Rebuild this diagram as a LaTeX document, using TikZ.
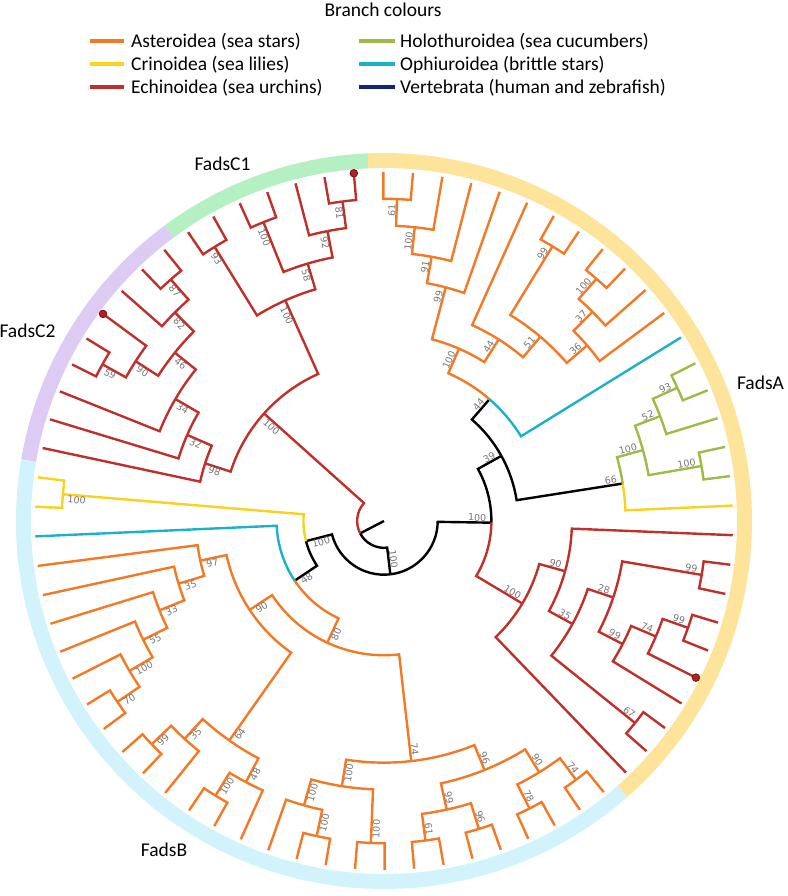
\documentclass[tikz,border=0pt]{standalone}
\usepackage{fontspec}
\setmainfont{Carlito}
\newfontfamily\bootfont{DejaVu Sans}
\definecolor{astcol}{RGB}{244,121,36}
\definecolor{cricol}{RGB}{248,210,28}
\definecolor{echcol}{RGB}{192,48,42}
\definecolor{holcol}{RGB}{157,187,70}
\definecolor{ophcol}{RGB}{25,178,201}
\definecolor{vercol}{RGB}{20,36,118}
\definecolor{ringC1}{RGB}{180,240,194}
\definecolor{ringC2}{RGB}{222,203,244}
\definecolor{ringB}{RGB}{210,243,251}
\definecolor{ringA}{RGB}{253,228,154}
\definecolor{dotred}{RGB}{178,34,34}
\definecolor{dotedge}{RGB}{120,16,16}
\definecolor{bootgray}{RGB}{118,118,118}
\def\rs{26.85pt}
% branch: colour, parent angle, parent level, child angle, child level
\newcommand\br[5][black]{\draw[branch,#1] ({#2}:{#3*\rs}) arc[start angle={#2}, end angle={#4}, radius={#3*\rs}] -- ({#4}:{#5*\rs});}
% support value: name, angle, level, value
\newcommand\bs[4]{%
  \pgfmathtruncatemacro\bsright{cos(#2)>=0 ? 1 : 0}%
  \ifnum\bsright=1
    \node[boot, rotate=#2, anchor=south east] (#1) at ({#2}:{#3*\rs-4pt}) {#4};
  \else
    \node[boot, rotate=#2+180, anchor=north west] (#1) at ({#2}:{#3*\rs-4pt}) {#4};
  \fi}

\begin{document}
\begin{tikzpicture}[
  x=1pt, y=1pt,
  branch/.style={line width=2.4pt},
  boot/.style={
    font=\bootfont\fontsize{9.5}{10}\selectfont,
    text=bootgray,
    inner sep=1pt
  },
  ringband/.style={line width=15pt},
  clade/.style={font=\fontsize{19.5}{23}\selectfont, inner sep=0pt},
  legtext/.style={font=\fontsize{19.5}{23}\selectfont, anchor=base west, inner sep=0pt},
  swatch/.style={line width=4pt},
  tipdot/.style={fill=dotred, draw=dotedge, line width=0.8pt},
]
\useasboundingbox (-384,-375) rectangle (403,521);

% legend
\node[clade, anchor=base] (legtitle) at (-1,504.3) {Branch colours};
\draw[swatch, astcol] (-294,480) -- (-260,480);
\node[legtext] (legast) at (-253,473.5) {Asteroidea (sea stars)};
\draw[swatch, cricol] (-294,457.2) -- (-260,457.2);
\node[legtext] (legcri) at (-253,450.7) {Crinoidea (sea lilies)};
\draw[swatch, echcol] (-294,434.4) -- (-260,434.4);
\node[legtext] (legech) at (-253,427.9) {Echinoidea (sea urchins)};
\draw[swatch, holcol] (-25,480) -- (11,480);
\node[legtext] (leghol) at (16,473.5) {Holothuroidea (sea cucumbers)};
\draw[swatch, ophcol] (-25,457.2) -- (11,457.2);
\node[legtext] (legoph) at (16,450.7) {Ophiuroidea (brittle stars)};
\draw[swatch, vercol] (-25,434.4) -- (11,434.4);
\node[legtext] (legver) at (16,427.9) {Vertebrata (human and zebrafish)};

% outer ring
\draw[ringband, ringC1] (92.53:360.5pt) arc[start angle=92.53, end angle=126.58, radius=360.5pt];
\draw[ringband, ringC2] (126.58:360.5pt) arc[start angle=126.58, end angle=170.36, radius=360.5pt];
\draw[ringband, ringB] (170.36:360.5pt) arc[start angle=170.36, end angle=311.45, radius=360.5pt];
\draw[ringband, ringA] (-48.55:360.5pt) arc[start angle=-48.55, end angle=92.53, radius=360.5pt];
\node[clade] (labC1) at (-161.5,357) {FadsC1};
\node[clade] (labC2) at (-356.5,190.5) {FadsC2};
\node[clade] (labA) at (376.5,138.5) {FadsA};
\node[clade] (labB) at (-220,-329) {FadsB};

% backbone
\draw[branch] (0,0) -- (-152.54:\rs);
\br{-152.54}{1}{-83.21}{2}
\br{-83.21}{2}{-165.51}{3}
\br{-83.21}{2}{-0.90}{4}
\br{-165.51}{3}{-146.25}{4}
\br{-0.90}{4}{29.01}{5}
\br{29.01}{5}{49.10}{6}
\br{29.01}{5}{8.92}{9}
\br[echcol]{-152.54}{1}{-221.87}{6}
\br[echcol]{-0.90}{4}{-30.81}{6}
\br[cricol]{-165.51}{3}{-184.77}{12}
\br[cricol]{-184.77}{12}{-182.34}{13}
\br[cricol]{-184.77}{12}{-187.20}{13}
\br[cricol]{8.92}{9}{2.53}{13}
\br[ophcol]{-146.25}{4}{-177.47}{13}
\br[ophcol]{49.10}{6}{31.72}{13}
\br[astcol]{-146.25}{4}{-115.02}{5}
\br[astcol]{49.10}{6}{66.47}{7}

% FadsA, sea stars
\br[astcol]{66.47}{7}{75.21}{9}
\br[astcol]{66.47}{7}{57.73}{8}
\br[astcol]{75.21}{9}{70.64}{13}
\br[astcol]{75.21}{9}{79.77}{10}
\br[astcol]{79.77}{10}{75.51}{13}
\br[astcol]{79.77}{10}{84.02}{11}
\br[astcol]{84.02}{11}{80.37}{13}
\br[astcol]{84.02}{11}{87.67}{12}
\br[astcol]{87.67}{12}{90.10}{13}
\br[astcol]{87.67}{12}{85.24}{13}
\br[astcol]{57.73}{8}{65.78}{13}
\br[astcol]{57.73}{8}{49.67}{9}
\br[astcol]{49.67}{9}{58.48}{12}
\br[astcol]{58.48}{12}{60.91}{13}
\br[astcol]{58.48}{12}{56.05}{13}
\br[astcol]{49.67}{9}{40.85}{10}
\br[astcol]{40.85}{10}{45.10}{11}
\br[astcol]{40.85}{10}{36.59}{13}
\br[astcol]{45.10}{11}{48.75}{12}
\br[astcol]{45.10}{11}{41.45}{13}
\br[astcol]{48.75}{12}{51.18}{13}
\br[astcol]{48.75}{12}{46.32}{13}

% FadsA, sea cucumbers
\br[holcol]{8.92}{9}{15.31}{10}
\br[holcol]{15.31}{10}{20.78}{11}
\br[holcol]{15.31}{10}{9.83}{12}
\br[holcol]{20.78}{11}{24.43}{12}
\br[holcol]{20.78}{11}{17.13}{13}
\br[holcol]{24.43}{12}{26.86}{13}
\br[holcol]{24.43}{12}{21.99}{13}
\br[holcol]{9.83}{12}{12.26}{13}
\br[holcol]{9.83}{12}{7.40}{13}

% FadsA, sea urchins
\br[echcol]{-30.81}{6}{-15.49}{7}
\br[echcol]{-30.81}{6}{-46.12}{13}
\br[echcol]{-15.49}{7}{-2.33}{13}
\br[echcol]{-15.49}{7}{-28.64}{8}
\br[echcol]{-28.64}{8}{-18.45}{9}
\br[echcol]{-28.64}{8}{-38.82}{12}
\br[echcol]{-38.82}{12}{-36.39}{13}
\br[echcol]{-38.82}{12}{-41.25}{13}
\br[echcol]{-18.45}{9}{-9.63}{12}
\br[echcol]{-18.45}{9}{-27.27}{10}
\br[echcol]{-9.63}{12}{-7.20}{13}
\br[echcol]{-9.63}{12}{-12.06}{13}
\br[echcol]{-27.27}{10}{-23.01}{11}
\br[echcol]{-27.27}{10}{-31.52}{13}
\br[echcol]{-23.01}{11}{-19.36}{12}
\br[echcol]{-23.01}{11}{-26.66}{13}
\br[echcol]{-19.36}{12}{-16.93}{13}
\br[echcol]{-19.36}{12}{-21.79}{13}

% FadsB
\br[astcol]{-115.02}{5}{-146.50}{6}
\br[astcol]{-115.02}{5}{-83.53}{9}
\br[astcol]{-146.50}{6}{-167.82}{7}
\br[astcol]{-146.50}{6}{-125.18}{10}
\br[astcol]{-167.82}{7}{-172.61}{13}
\br[astcol]{-167.82}{7}{-163.03}{8}
\br[astcol]{-163.03}{8}{-167.74}{13}
\br[astcol]{-163.03}{8}{-158.32}{9}
\br[astcol]{-158.32}{9}{-162.88}{13}
\br[astcol]{-158.32}{9}{-153.76}{10}
\br[astcol]{-153.76}{10}{-158.01}{13}
\br[astcol]{-153.76}{10}{-149.50}{11}
\br[astcol]{-149.50}{11}{-153.15}{13}
\br[astcol]{-149.50}{11}{-145.85}{12}
\br[astcol]{-145.85}{12}{-148.28}{13}
\br[astcol]{-145.85}{12}{-143.42}{13}
\br[astcol]{-125.18}{10}{-132.47}{11}
\br[astcol]{-125.18}{10}{-117.88}{11}
\br[astcol]{-132.47}{11}{-136.12}{12}
\br[astcol]{-132.47}{11}{-128.82}{13}
\br[astcol]{-136.12}{12}{-133.69}{13}
\br[astcol]{-136.12}{12}{-138.55}{13}
\br[astcol]{-117.88}{11}{-121.53}{12}
\br[astcol]{-117.88}{11}{-114.23}{13}
\br[astcol]{-121.53}{12}{-119.09}{13}
\br[astcol]{-121.53}{12}{-123.96}{13}
\br[astcol]{-83.53}{9}{-99.03}{10}
\br[astcol]{-83.53}{9}{-68.02}{10}
\br[astcol]{-99.03}{10}{-105.72}{11}
\br[astcol]{-99.03}{10}{-92.34}{12}
\br[astcol]{-105.72}{11}{-109.36}{13}
\br[astcol]{-105.72}{11}{-102.07}{12}
\br[astcol]{-102.07}{12}{-104.50}{13}
\br[astcol]{-102.07}{12}{-99.63}{13}
\br[astcol]{-92.34}{12}{-94.77}{13}
\br[astcol]{-92.34}{12}{-89.90}{13}
\br[astcol]{-68.02}{10}{-77.75}{11}
\br[astcol]{-68.02}{10}{-58.29}{11}
\br[astcol]{-77.75}{11}{-82.61}{12}
\br[astcol]{-77.75}{11}{-72.88}{12}
\br[astcol]{-82.61}{12}{-85.04}{13}
\br[astcol]{-82.61}{12}{-80.17}{13}
\br[astcol]{-72.88}{12}{-75.31}{13}
\br[astcol]{-72.88}{12}{-70.44}{13}
\br[astcol]{-58.29}{11}{-63.15}{12}
\br[astcol]{-58.29}{11}{-53.42}{12}
\br[astcol]{-63.15}{12}{-65.58}{13}
\br[astcol]{-63.15}{12}{-60.71}{13}
\br[astcol]{-53.42}{12}{-55.85}{13}
\br[astcol]{-53.42}{12}{-50.98}{13}

% FadsC1 and FadsC2
\br[echcol]{-221.87}{6}{-197.85}{7}
\br[echcol]{-221.87}{6}{-245.89}{9}
\br[echcol]{-197.85}{7}{-192.07}{13}
\br[echcol]{-197.85}{7}{-203.63}{8}
\br[echcol]{-203.63}{8}{-196.93}{13}
\br[echcol]{-203.63}{8}{-210.32}{9}
\br[echcol]{-210.32}{9}{-201.80}{13}
\br[echcol]{-210.32}{9}{-218.83}{10}
\br[echcol]{-218.83}{10}{-212.75}{11}
\br[echcol]{-218.83}{10}{-224.91}{11}
\br[echcol]{-212.75}{11}{-209.10}{12}
\br[echcol]{-212.75}{11}{-216.39}{13}
\br[echcol]{-209.10}{12}{-206.66}{13}
\br[echcol]{-209.10}{12}{-211.53}{13}
\br[echcol]{-224.91}{11}{-221.26}{13}
\br[echcol]{-224.91}{11}{-228.56}{12}
\br[echcol]{-228.56}{12}{-226.12}{13}
\br[echcol]{-228.56}{12}{-230.99}{13}
\br[echcol]{-245.89}{9}{-238.29}{12}
\br[echcol]{-245.89}{9}{-253.49}{10}
\br[echcol]{-238.29}{12}{-235.85}{13}
\br[echcol]{-238.29}{12}{-240.72}{13}
\br[echcol]{-253.49}{10}{-248.02}{12}
\br[echcol]{-253.49}{10}{-258.96}{11}
\br[echcol]{-248.02}{12}{-245.58}{13}
\br[echcol]{-248.02}{12}{-250.45}{13}
\br[echcol]{-258.96}{11}{-255.31}{13}
\br[echcol]{-258.96}{11}{-262.61}{12}
\br[echcol]{-262.61}{12}{-260.18}{13}
\br[echcol]{-262.61}{12}{-265.04}{13}

% marked tips
\draw[tipdot] (-216.39:{13*\rs}) circle (3.8pt);
\draw[tipdot] (-265.04:{13*\rs}) circle (3.8pt);
\draw[tipdot] (-26.66:{13*\rs}) circle (3.8pt);

% support values
\bs{bN1}{-83.21}{2}{100}
\bs{bN3}{-165.51}{3}{100}
\bs{bN2}{-0.90}{4}{100}
\bs{bN4}{-146.25}{4}{48}
\bs{bN5}{29.01}{5}{39}
\bs{bN6}{49.10}{6}{44}
\bs{bH66}{8.92}{9}{66}
\bs{bEA}{-30.81}{6}{100}
\bs{bEC}{-221.87}{6}{100}
\bs{bCri}{-184.77}{12}{100}
\bs{bA100t}{66.47}{7}{100}
\bs{bA99}{75.21}{9}{99}
\bs{bA91}{79.77}{10}{91}
\bs{bA100}{84.02}{11}{100}
\bs{bA61}{87.67}{12}{61}
\bs{bA44}{57.73}{8}{44}
\bs{bA51}{49.67}{9}{51}
\bs{bA99b}{58.48}{12}{99}
\bs{bA36}{40.85}{10}{36}
\bs{bA37}{45.10}{11}{37}
\bs{bA100c}{48.75}{12}{100}
\bs{bH100}{15.31}{10}{100}
\bs{bH52}{20.78}{11}{52}
\bs{bH93}{24.43}{12}{93}
\bs{bH100b}{9.83}{12}{100}
\bs{bR90}{-15.49}{7}{90}
\bs{bR35}{-28.64}{8}{35}
\bs{bR28}{-18.45}{9}{28}
\bs{bR99c}{-9.63}{12}{99}
\bs{bR99d}{-27.27}{10}{99}
\bs{bR74}{-23.01}{11}{74}
\bs{bR99e}{-19.36}{12}{99}
\bs{bR67}{-38.82}{12}{67}
\bs{bB80}{-115.02}{5}{80}
\bs{bB90}{-146.50}{6}{90}
\bs{bB74}{-83.53}{9}{74}
\bs{bB97}{-167.82}{7}{97}
\bs{bB35a}{-163.03}{8}{35}
\bs{bB33}{-158.32}{9}{33}
\bs{bB55}{-153.76}{10}{55}
\bs{bB100b}{-149.50}{11}{100}
\bs{bB70}{-145.85}{12}{70}
\bs{bB64}{-125.18}{10}{64}
\bs{bB35b}{-132.47}{11}{35}
\bs{bB99}{-136.12}{12}{99}
\bs{bB48}{-117.88}{11}{48}
\bs{bB100c}{-121.53}{12}{100}
\bs{bB100d}{-99.03}{10}{100}
\bs{bB100e}{-105.72}{11}{100}
\bs{bB100f}{-102.07}{12}{100}
\bs{bB100g}{-92.34}{12}{100}
\bs{bB96}{-68.02}{10}{96}
\bs{bB99b}{-77.75}{11}{99}
\bs{bB61}{-82.61}{12}{61}
\bs{bB96b}{-72.88}{12}{96}
\bs{bB90b}{-58.29}{11}{90}
\bs{bB78}{-63.15}{12}{78}
\bs{bB74b}{-53.42}{12}{74}
\bs{bC98}{-197.85}{7}{98}
\bs{bC32}{-203.63}{8}{32}
\bs{bC34}{-210.32}{9}{34}
\bs{bC46}{-218.83}{10}{46}
\bs{bC90}{-212.75}{11}{90}
\bs{bC59}{-209.10}{12}{59}
\bs{bC82}{-224.91}{11}{82}
\bs{bC87}{-228.56}{12}{87}
\bs{bC100}{-245.89}{9}{100}
\bs{bC93}{-238.29}{12}{93}
\bs{bC58}{-253.49}{10}{58}
\bs{bC100h}{-248.02}{12}{100}
\bs{bC92}{-258.96}{11}{92}
\bs{bC81}{-262.61}{12}{81}
\end{tikzpicture}
\end{document}
